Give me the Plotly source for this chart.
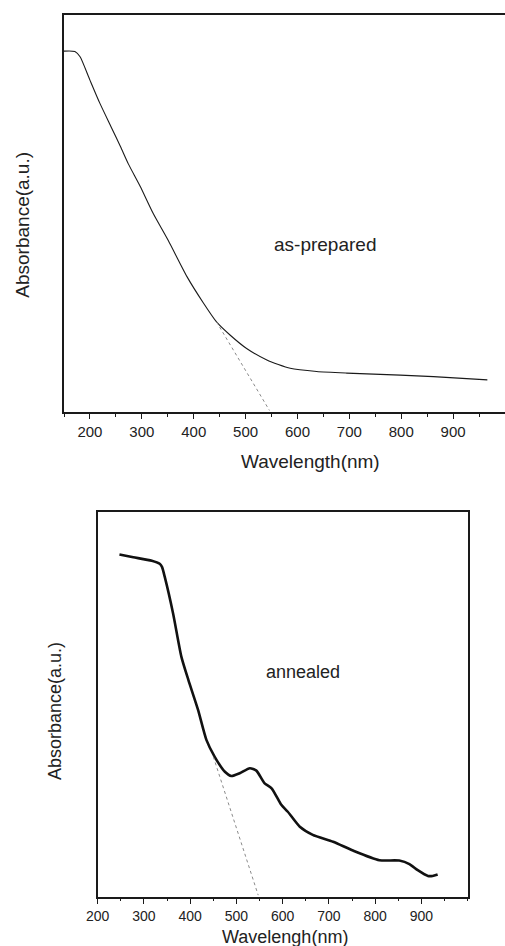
import plotly.graph_objects as go

# ---- data: as-prepared (top panel) ----
wl_prep = [150, 171, 181, 200, 219, 242, 259, 274, 297, 322, 351, 387, 419, 444, 470, 502, 541,
           586, 637, 695, 798, 862, 966]
abs_prep = [0.909, 0.908, 0.895, 0.836, 0.778, 0.715, 0.668, 0.625, 0.568, 0.500, 0.432, 0.341,
            0.274, 0.227, 0.194, 0.160, 0.131, 0.110, 0.102, 0.098, 0.093, 0.089, 0.081]
tan_prep_x = [444, 546]
tan_prep_y = [0.227, 0.004]

# ---- data: annealed (bottom panel) ----
wl_ann = [247, 277, 317, 334, 339, 345, 363, 381, 396, 417, 435, 453, 475, 489, 507, 529, 543,
          561, 576, 597, 611, 637, 665, 709, 752, 809, 852, 874, 892, 914, 924, 935]
abs_ann = [0.890, 0.883, 0.874, 0.866, 0.858, 0.832, 0.737, 0.624, 0.564, 0.486, 0.408, 0.364,
           0.325, 0.314, 0.321, 0.334, 0.328, 0.295, 0.282, 0.239, 0.221, 0.182, 0.161, 0.143,
           0.120, 0.095, 0.094, 0.085, 0.069, 0.054, 0.054, 0.058]
tan_ann_x = [450, 547]
tan_ann_y = [0.364, 0.004]

tick_vals = [200, 300, 400, 500, 600, 700, 800, 900]
tick_text = [str(v) for v in tick_vals]

W, H = 505, 946
FONT = "Arial, Liberation Sans, sans-serif"
TXT = "#222222"
LINE = "#1a1a1a"

fig = go.Figure()
fig.add_trace(go.Scatter(x=wl_prep, y=abs_prep, mode="lines",
                         line=dict(color=LINE, width=1.1, shape="spline", smoothing=0.6),
                         xaxis="x", yaxis="y", showlegend=False, hoverinfo="skip"))
fig.add_trace(go.Scatter(x=tan_prep_x, y=tan_prep_y, mode="lines",
                         line=dict(color="#8a8a8a", width=1, dash="dot"),
                         xaxis="x", yaxis="y", showlegend=False, hoverinfo="skip"))
fig.add_trace(go.Scatter(x=wl_ann, y=abs_ann, mode="lines",
                         line=dict(color="#111111", width=2.6, shape="spline", smoothing=0.6),
                         xaxis="x2", yaxis="y2", showlegend=False, hoverinfo="skip"))
fig.add_trace(go.Scatter(x=tan_ann_x, y=tan_ann_y, mode="lines",
                         line=dict(color="#8a8a8a", width=1, dash="dot"),
                         xaxis="x2", yaxis="y2", showlegend=False, hoverinfo="skip"))

def pxx(px):
    return px / W

def pxy(py):
    return 1 - py / H

top_dom_x = [pxx(64), 1.0]
top_dom_y = [pxy(412), pxy(15)]
bot_dom_x = [pxx(97.7), pxx(467.7)]
bot_dom_y = [pxy(896.7), pxy(512.3)]

def xax(size, ticklen):
    return dict(showgrid=False, zeroline=False, showline=True, linecolor=LINE, linewidth=1.5,
                ticks="outside", tickcolor=LINE, tickwidth=1.2, ticklen=ticklen,
                tickmode="array", tickvals=tick_vals, ticktext=tick_text,
                tickfont=dict(family=FONT, size=size, color=TXT), automargin=False,
                minor=dict(dtick=50, tick0=150, ticks="outside", ticklen=3,
                           tickcolor=LINE, tickwidth=1.2))

ycommon = dict(showgrid=False, zeroline=False, showline=True, linecolor=LINE, linewidth=1.5,
               showticklabels=False, ticks="", automargin=False, range=[0, 1])

fig.update_layout(
    width=W, height=H,
    margin=dict(l=0, r=0, t=0, b=0),
    paper_bgcolor="white", plot_bgcolor="white",
    xaxis=dict(**xax(15, 5), domain=top_dom_x, range=[150, 1000], anchor="y", mirror=True),
    yaxis=dict(**ycommon, domain=top_dom_y, anchor="x", mirror=False),
    xaxis2=dict(**xax(14, 6), domain=bot_dom_x, range=[200, 1000], anchor="y2", mirror=True),
    yaxis2=dict(**ycommon, domain=bot_dom_y, anchor="x2", mirror=True),
)

C = dict(xanchor="center", yanchor="middle", showarrow=False)
annos = [
    dict(text="as-prepared", x=653, y=0.423, xref="x", yref="y", **C,
         font=dict(family=FONT, size=19, color=TXT)),
    dict(text="annealed", x=200 + (303.3 - 97.7) / 0.4633, y=(896.7 - 672.3) / 384.4,
         xref="x2", yref="y2", **C, font=dict(family=FONT, size=18, color=TXT)),
    dict(text="Absorbance(a.u.)", x=pxx(21.7), y=pxy(225), xref="paper", yref="paper", **C,
         textangle=-90, font=dict(family=FONT, size=19, color=TXT)),
    dict(text="Absorbance(a.u.)", x=pxx(55), y=pxy(711), xref="paper", yref="paper", **C,
         textangle=-90, font=dict(family=FONT, size=18, color=TXT)),
    dict(text="Wavelength(nm)", x=pxx(310), y=pxy(461), xref="paper", yref="paper", **C,
         font=dict(family=FONT, size=19, color=TXT)),
    dict(text="Wavelengh(nm)", x=pxx(285), y=pxy(937), xref="paper", yref="paper", **C,
         font=dict(family=FONT, size=18, color=TXT)),
]
fig.update_layout(annotations=annos)

fig.write_html("out.html", config={"displayModeBar": False},
               post_script="document.body.style.margin='0';document.body.style.overflow='hidden';")
